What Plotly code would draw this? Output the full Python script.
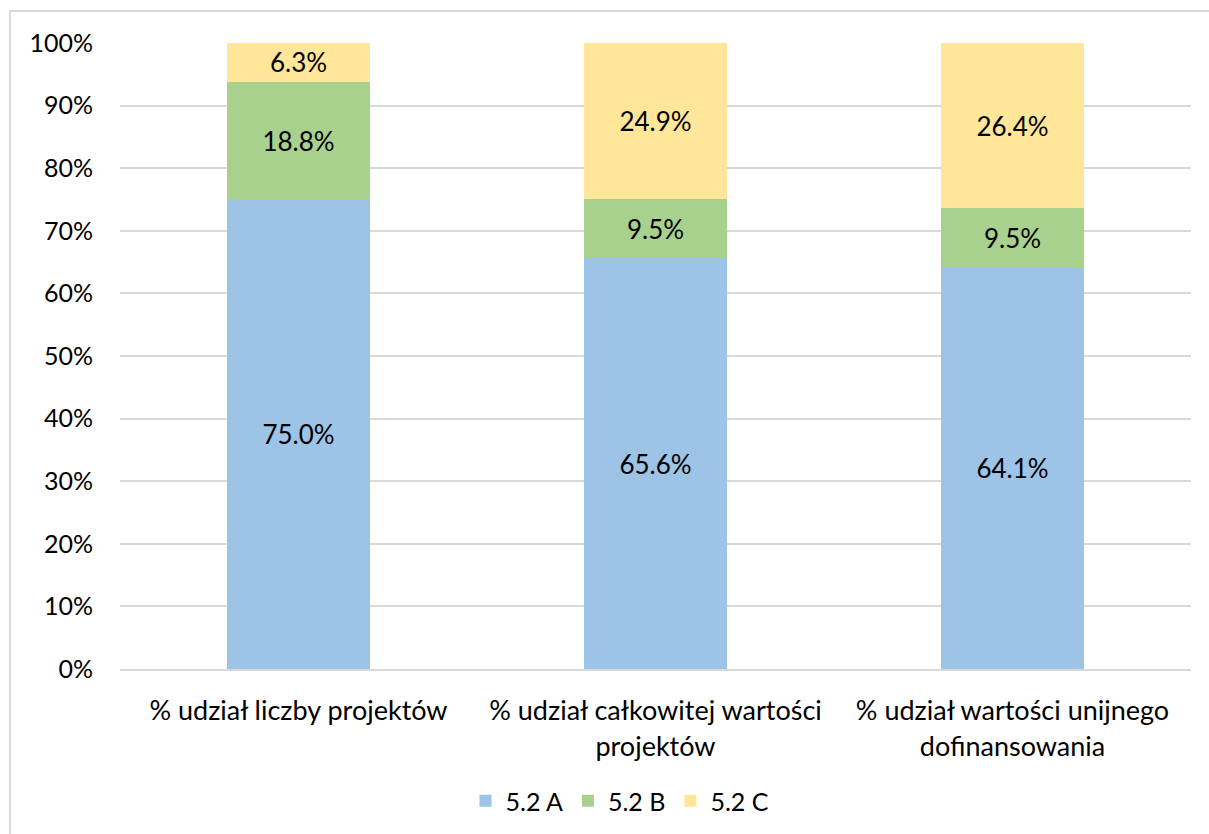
import plotly.graph_objects as go

categories = ["% udział liczby projektów",
              "% udział całkowitej wartości<br>projektów",
              "% udział wartości unijnego<br>dofinansowania"]
series_names = ["5.2 A", "5.2 B", "5.2 C"]
values_a = [75.0, 65.6, 64.1]
values_b = [18.8, 9.5, 9.5]
values_c = [6.3, 24.9, 26.4]
colors = ["#9DC3E6", "#A9D18E", "#FFE699"]
tick_vals = [0, 10, 20, 30, 40, 50, 60, 70, 80, 90, 100]
tick_text = [f"{v}%" for v in tick_vals]

FONT = "Lato, 'Open Sans', sans-serif"
fig = go.Figure()
for name, vals, col in zip(series_names, [values_a, values_b, values_c], colors):
    fig.add_trace(go.Bar(
        x=categories, y=vals, name=name, marker=dict(color=col, line=dict(width=0)),
        text=[f"{v:.1f}%" for v in vals], textposition="inside",
        insidetextanchor="middle", textangle=0,
        textfont=dict(family=FONT, size=26, color="#000000"),
        hoverinfo="skip"))

W, H = 1209, 834
ml, mr, mt, mb = 120, 18, 43, 165
pw, ph = W - ml - mr, H - mt - mb
fig.update_layout(
    width=W, height=H, barmode="stack", bargap=0.6,
    margin=dict(l=ml, r=mr, t=mt, b=mb, autoexpand=False),
    paper_bgcolor="white", plot_bgcolor="white",
    font=dict(family=FONT, size=25, color="#000000"),
    uniformtext=dict(minsize=26, mode="show"),
    yaxis=dict(range=[0, 100], tickvals=tick_vals, ticktext=tick_text,
               showgrid=True, gridcolor="#D9D9D9", gridwidth=2,
               zeroline=False, showline=False, ticks="", ticklen=0,
               ticklabelstandoff=26,
               tickfont=dict(size=25), automargin=False),
    xaxis=dict(showline=True, linecolor="#D9D9D9", linewidth=2, ticks="",
               ticklabelstandoff=17,
               tickfont=dict(size=27), automargin=False),
    legend=dict(orientation="h", x=(620 - ml) / pw, xanchor="center",
                y=(669 - 801) / ph, yanchor="middle",
                font=dict(size=25), traceorder="normal", itemwidth=30),
    showlegend=True,
    shapes=[dict(type="rect", xref="paper", yref="paper",
                 x0=(10 - ml) / pw, x1=1.05, y0=-0.5, y1=1 + (mt - 11) / ph,
                 line=dict(color="#D9D9D9", width=2), fillcolor="rgba(0,0,0,0)",
                 layer="below")],
)
fig.write_html("out.html")
